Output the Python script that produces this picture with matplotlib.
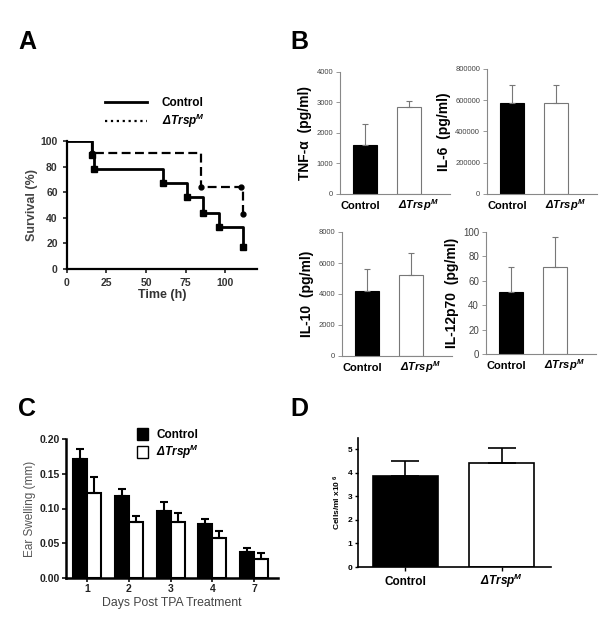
import numpy as np
import matplotlib
matplotlib.use('Agg')
import matplotlib.pyplot as plt
from matplotlib.lines import Line2D
from matplotlib.patches import Patch

plt.rcParams['font.family'] = ['Liberation Sans', 'DejaVu Sans']
plt.rcParams['mathtext.default'] = 'regular'

TRSP = r'$\Delta$Trsp$^{M}$'

# Panel A - survival
ctrl_time = [0, 16, 17, 61, 76, 86, 96, 111]
ctrl_surv = [100, 89, 78, 67, 56, 44, 33, 17]
trsp_time = [0, 16, 85, 110, 111]
trsp_surv = [100, 91, 64, 64, 43]

# Panel B - cytokines
b_labels = ['TNF-\u03b1  (pg/ml)', 'IL-6  (pg/ml)', 'IL-10  (pg/ml)', 'IL-12p70  (pg/ml)']
b_ctrl = [1600, 585000, 4200, 51]
b_ctrl_err = [680, 115000, 1400, 20]
b_trsp = [2850, 585000, 5250, 71.5]
b_trsp_err = [200, 110000, 1400, 24.5]
b_ymax = [4000, 800000, 8000, 100]
b_step = [1000, 200000, 2000, 20]

# Panel C - ear swelling
c_days = ['1', '2', '3', '4', '7']
c_ctrl = [0.171, 0.118, 0.096, 0.077, 0.037]
c_ctrl_err = [0.014, 0.010, 0.013, 0.008, 0.006]
c_trsp = [0.123, 0.080, 0.081, 0.058, 0.027]
c_trsp_err = [0.022, 0.009, 0.012, 0.010, 0.009]

# Panel D - cells
d_groups = ['Control', TRSP]
d_vals = [3.88, 4.43]
d_err = [0.62, 0.64]

W, H = 600, 631
fig = plt.figure(figsize=(6, 6.31), dpi=100)


def ax_px(l, t, r, b):
    return fig.add_axes([l / W, 1 - b / H, (r - l) / W, (b - t) / H])


for lab, x, y in [('A', 18, 30), ('B', 290, 30), ('C', 18, 397), ('D', 290, 397)]:
    fig.text(x / W, 1 - y / H, lab, fontsize=18, fontweight='bold', va='top')

# ---- A ----
ax = ax_px(66.7, 141, 257, 269)
ax.step(ctrl_time, ctrl_surv, where='post', color='black', lw=2)
ax.plot(ctrl_time[1:], ctrl_surv[1:], 's', color='black', ms=4.5, clip_on=False)
ax.step(trsp_time, trsp_surv, where='post', color='black', lw=1.6, ls=(0, (4, 2)))
ax.plot(trsp_time[1:], trsp_surv[1:], 'o', color='black', ms=3.5, clip_on=False)
ax.set_xlim(0, 120)
ax.set_ylim(0, 100)
ax.set_xticks([0, 25, 50, 75, 100])
ax.set_yticks([0, 20, 40, 60, 80, 100])
for s in ['top', 'right']:
    ax.spines[s].set_visible(False)
for s in ['left', 'bottom']:
    ax.spines[s].set_linewidth(1.6)
ax.tick_params(width=1.3, length=3, labelsize=7.5, colors='#333333')
for t in ax.get_xticklabels() + ax.get_yticklabels():
    t.set_fontweight('bold')
ax.set_xlabel('Time (h)', fontsize=9, fontweight='bold', color='#333333', labelpad=1)
ax.set_ylabel('Survival (%)', fontsize=9, fontweight='bold', color='#444444', labelpad=2)
handles = [Line2D([], [], color='black', lw=2), Line2D([], [], color='black', lw=1.6, ls=':')]
leg = ax.legend(handles, ['Control', TRSP], loc='lower left',
                bbox_to_anchor=(0.17, 1.04), frameon=False, handlelength=3.6,
                handletextpad=1.2, labelspacing=0.25, fontsize=8.5, borderpad=0)
for t, st in zip(leg.get_texts(), ['normal', 'italic']):
    t.set_fontweight('bold')
    t.set_fontstyle(st)

# ---- B ----
b_boxes = [(340, 71.7, 450, 194), (487, 69, 597, 194),
           (342, 232, 452, 356), (486, 232, 596, 354)]
for i, box in enumerate(b_boxes):
    ax = ax_px(*box)
    ax.bar([0, 1], [b_ctrl[i], b_trsp[i]], width=0.545,
           color=['black', 'white'], edgecolor=['black', '#777777'], lw=0.8)
    ax.errorbar([0, 1], [b_ctrl[i], b_trsp[i]],
                yerr=[[0, 0], [b_ctrl_err[i], b_trsp_err[i]]],
                fmt='none', ecolor='#777777', elinewidth=0.8, capsize=2.5, capthick=0.8)
    ax.set_xlim(-0.57, 1.93)
    ax.set_ylim(0, b_ymax[i])
    ax.set_yticks(np.arange(0, b_ymax[i] + 1, b_step[i]))
    ax.set_xticks([-0.1, 1.2])
    ax.set_xticklabels(['Control', TRSP], fontsize=8, fontweight='bold', va='baseline')
    ax.get_xticklabels()[1].set_fontstyle('italic')
    for s in ['top', 'right']:
        ax.spines[s].set_visible(False)
    for s in ['left', 'bottom']:
        ax.spines[s].set_color('#888888')
        ax.spines[s].set_linewidth(0.8)
    ax.tick_params(axis='y', length=3, width=0.6, color='#888888',
                   labelsize=7 if i == 3 else 5.5, labelcolor='#444444', pad=2)
    ax.tick_params(axis='x', length=0, pad=10.5)
    ax.set_ylabel(b_labels[i], fontsize=10, fontweight='bold', labelpad=3)

# ---- C ----
ax = ax_px(65.7, 439, 278, 578)
xc = np.arange(len(c_days))
bw = 0.335
ax.bar(xc - bw / 2, c_ctrl, width=bw, color='black', edgecolor='black', lw=1.5)
ax.bar(xc + bw / 2, c_trsp, width=bw, color='white', edgecolor='black', lw=1.5)
ax.errorbar(xc - bw / 2, c_ctrl, yerr=[np.zeros(5), c_ctrl_err], fmt='none',
            ecolor='black', elinewidth=1.5, capsize=3, capthick=1.5)
ax.errorbar(xc + bw / 2, c_trsp, yerr=[np.zeros(5), c_trsp_err], fmt='none',
            ecolor='black', elinewidth=1.5, capsize=3, capthick=1.5)
ax.set_xlim(-0.51, 4.57)
ax.set_ylim(0, 0.2)
ax.set_xticks(xc)
ax.set_xticklabels(c_days)
ax.set_yticks([0, 0.05, 0.10, 0.15, 0.20])
ax.set_yticklabels(['0.00', '0.05', '0.10', '0.15', '0.20'])
for s in ['top', 'right']:
    ax.spines[s].set_visible(False)
for s in ['left', 'bottom']:
    ax.spines[s].set_linewidth(1.8)
ax.tick_params(width=1.3, length=3, labelsize=7.5, colors='#222222', pad=1.5)
for t in ax.get_xticklabels() + ax.get_yticklabels():
    t.set_fontweight('bold')
ax.set_xlabel('Days Post TPA Treatment', fontsize=8.8, color='#444444', labelpad=2)
ax.set_ylabel('Ear Swelling (mm)', fontsize=8.5, color='#555555', labelpad=2)
handles = [Patch(facecolor='black', edgecolor='black'),
           Patch(facecolor='white', edgecolor='black', lw=1)]
leg = ax.legend(handles, ['Control', TRSP], loc='upper left',
                bbox_to_anchor=(0.31, 1.12), frameon=False, handlelength=0.9,
                handleheight=1.2, handletextpad=0.7, labelspacing=0.15,
                fontsize=8.5, borderpad=0)
for t, st in zip(leg.get_texts(), ['normal', 'italic']):
    t.set_fontweight('bold')
    t.set_fontstyle(st)

# ---- D ----
ax = ax_px(357.7, 437.7, 550.7, 567)
xd = np.arange(len(d_groups))
ax.bar(xd, d_vals, width=0.675, color=['black', 'white'], edgecolor='black', lw=1.2)
ax.errorbar(xd, d_vals, yerr=[np.zeros(2), d_err], fmt='none', ecolor='black',
            elinewidth=1.2, capsize=10, capthick=1.2)
ax.set_xlim(-0.493, 1.51)
ax.set_ylim(0, 5.5)
ax.set_yticks([0, 1, 2, 3, 4, 5])
ax.set_xticks(xd)
ax.set_xticklabels(d_groups, fontsize=8.5, fontweight='bold', va='baseline')
ax.get_xticklabels()[1].set_fontstyle('italic')
for s in ['top', 'right']:
    ax.spines[s].set_visible(False)
for s in ['left', 'bottom']:
    ax.spines[s].set_linewidth(1.2)
ax.tick_params(axis='y', width=1, length=2.5, labelsize=6, pad=1.5)
ax.tick_params(axis='x', width=1, length=3, pad=10)
for t in ax.get_yticklabels():
    t.set_fontweight('bold')
ax.set_ylabel('Cells/ml x10 $^{6}$', fontsize=6, fontweight='bold', labelpad=3)

fig.savefig('out.png', dpi=100)
